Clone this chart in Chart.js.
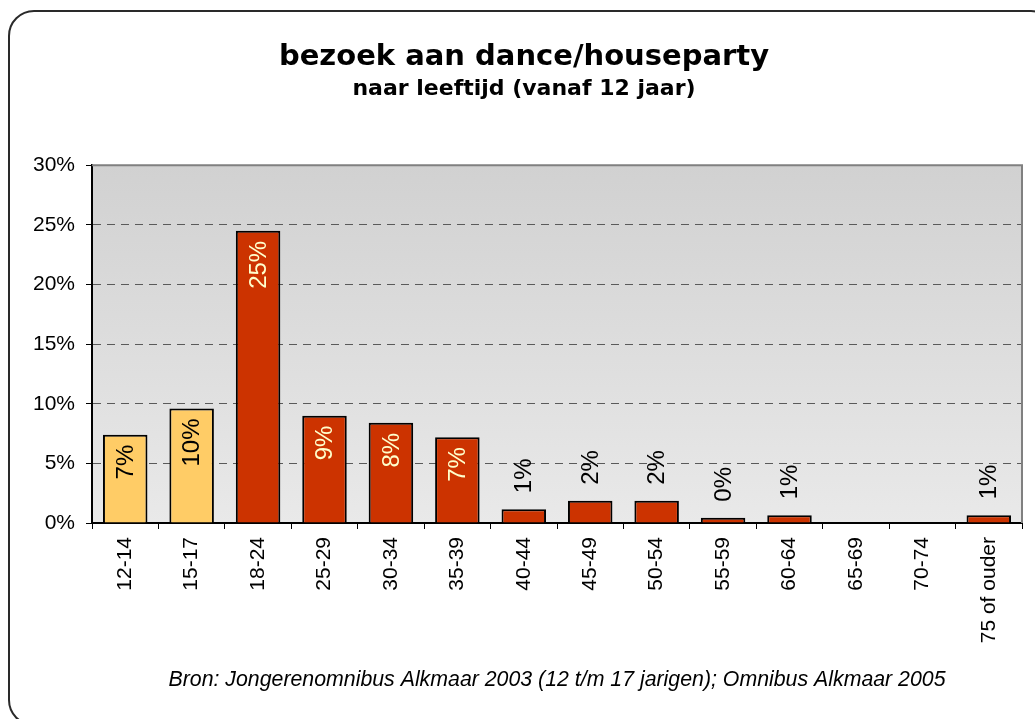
<!DOCTYPE html>
<html>
<head>
<meta charset="utf-8">
<script src="https://cdn.jsdelivr.net/npm/chart.js@4"></script>
<style>
  html, body { margin: 0; padding: 0; background: #fff; overflow: hidden; }
  #frame { position: absolute; left: 8px; top: 10px; width: 1045px; height: 712px;
           border: 2px solid #2a2a2a; border-radius: 26px; box-shadow: 3px 3px 0 #000; }
  #c { position: absolute; left: 0; top: 0; }
</style>
</head>
<body>
<div id="frame"></div>
<canvas id="c" width="1035" height="719"></canvas>
<script>
// ---- data ----
const categories = ['12-14','15-17','18-24','25-29','30-34','35-39','40-44','45-49','50-54','55-59','60-64','65-69','70-74','75 of ouder'];
const percentValues = [7.4, 9.6, 24.5, 9.0, 8.4, 7.2, 1.16, 1.86, 1.86, 0.45, 0.65, 0, 0, 0.65];
const youthGroups = [true, true, false, false, false, false, false, false, false, false, false, false, false, false];
const yTickValues = [0, 5, 10, 15, 20, 25, 30];
const titleText = 'bezoek aan dance/houseparty';
const subtitleText = 'naar leeftijd (vanaf 12 jaar)';
const sourceText = 'Bron: Jongerenomnibus Alkmaar 2003 (12 t/m 17 jarigen); Omnibus Alkmaar 2005';

const YELLOW = '#FFCC66';
const RED = '#CC3300';

const plotBg = {
  id: 'plotBg',
  beforeDraw(chart) {
    const {ctx, chartArea: a} = chart;
    const g = ctx.createLinearGradient(0, a.top, 0, a.bottom);
    g.addColorStop(0, '#d1d1d1');
    g.addColorStop(1, '#e9e9e9');
    ctx.save();
    ctx.fillStyle = g;
    ctx.fillRect(a.left, a.top, a.right - a.left, a.bottom - a.top);
    ctx.restore();
  },
  afterDatasetsDraw(chart) {
    const {ctx, chartArea: a} = chart;
    ctx.save();
    ctx.strokeStyle = '#808080';
    ctx.lineWidth = 2;
    ctx.beginPath();
    ctx.moveTo(a.left, a.top);
    ctx.lineTo(a.right, a.top);
    ctx.lineTo(a.right, a.bottom);
    ctx.stroke();
    ctx.restore();
  }
};

const barLabels = {
  id: 'barLabels',
  afterDatasetsDraw(chart) {
    const {ctx} = chart;
    const meta = chart.getDatasetMeta(0);
    ctx.save();
    ctx.font = '24px "Liberation Sans", Arial, sans-serif';
    ctx.textBaseline = 'middle';
    meta.data.forEach((bar, i) => {
      const v = percentValues[i];
      if (!v) return;
      const txt = Math.round(v) + '%';
      ctx.save();
      if (v >= 5) {
        ctx.translate(bar.x, bar.y + 10);
        ctx.rotate(-Math.PI / 2);
        ctx.textAlign = 'right';
        ctx.fillStyle = youthGroups[i] ? '#000' : '#FFFFCC';
      } else {
        ctx.translate(bar.x, bar.y - 16);
        ctx.rotate(-Math.PI / 2);
        ctx.textAlign = 'left';
        ctx.fillStyle = '#000';
      }
      ctx.fillText(txt, 0, 1);
      ctx.restore();
    });
    ctx.restore();
  }
};

const sourceNote = {
  id: 'sourceNote',
  afterDraw(chart) {
    const {ctx} = chart;
    ctx.save();
    ctx.font = 'italic 22px "Liberation Sans Narrow", "Arial Narrow", "Liberation Sans", sans-serif';
    ctx.fillStyle = '#000';
    ctx.textAlign = 'center';
    ctx.textBaseline = 'middle';
    ctx.fillText(sourceText, 557, 680, 777);
    ctx.restore();
  }
};

new Chart(document.getElementById('c'), {
  type: 'bar',
  data: {
    labels: categories,
    datasets: [{
      data: percentValues,
      backgroundColor: youthGroups.map(y => y ? YELLOW : RED),
      borderColor: '#000',
      borderWidth: 2,
      borderSkipped: 'bottom',
      barPercentage: 0.67,
      categoryPercentage: 1
    }]
  },
  options: {
    responsive: false,
    animation: false,
    devicePixelRatio: 1,
    layout: { padding: { left: 26, right: 13, top: 0, bottom: 56 } },
    plugins: {
      legend: { display: false },
      tooltip: { enabled: false },
      title: {
        display: true,
        text: titleText,
        color: '#000',
        font: { family: '"DejaVu Sans", Verdana, sans-serif', size: 29, weight: 'bold', lineHeight: 1.2 },
        padding: { top: 40, bottom: 1 }
      },
      subtitle: {
        display: true,
        text: subtitleText,
        color: '#000',
        font: { family: '"DejaVu Sans", Verdana, sans-serif', size: 22, weight: 'bold', lineHeight: 1.2 },
        padding: { top: 0, bottom: 63 }
      }
    },
    scales: {
      x: {
        grid: { offset: true, drawOnChartArea: false, tickLength: 6, tickColor: '#000', tickWidth: 1 },
        border: { color: '#000', width: 2 },
        ticks: {
          color: '#000', autoSkip: false, maxRotation: 90, minRotation: 90, padding: 8,
          font: { family: '"Liberation Sans", Arial, sans-serif', size: 21 }
        },
        afterFit(s) { s.height = 140; }
      },
      y: {
        min: 0, max: 30,
        afterBuildTicks(s) { s.ticks = yTickValues.map(v => ({ value: v })); },
        grid: { color: '#5a5a5a', lineWidth: 1, tickLength: 6, tickColor: '#000', tickWidth: 1, tickBorderDash: [] },
        border: { color: '#000', width: 2, dash: [8, 6] },
        ticks: {
          color: '#000', padding: 11,
          font: { family: '"Liberation Sans", Arial, sans-serif', size: 21 },
          callback: v => v + '%'
        },
        afterFit(s) { s.width = 66; }
      }
    }
  },
  plugins: [plotBg, barLabels, sourceNote]
});
</script>
</body>
</html>
